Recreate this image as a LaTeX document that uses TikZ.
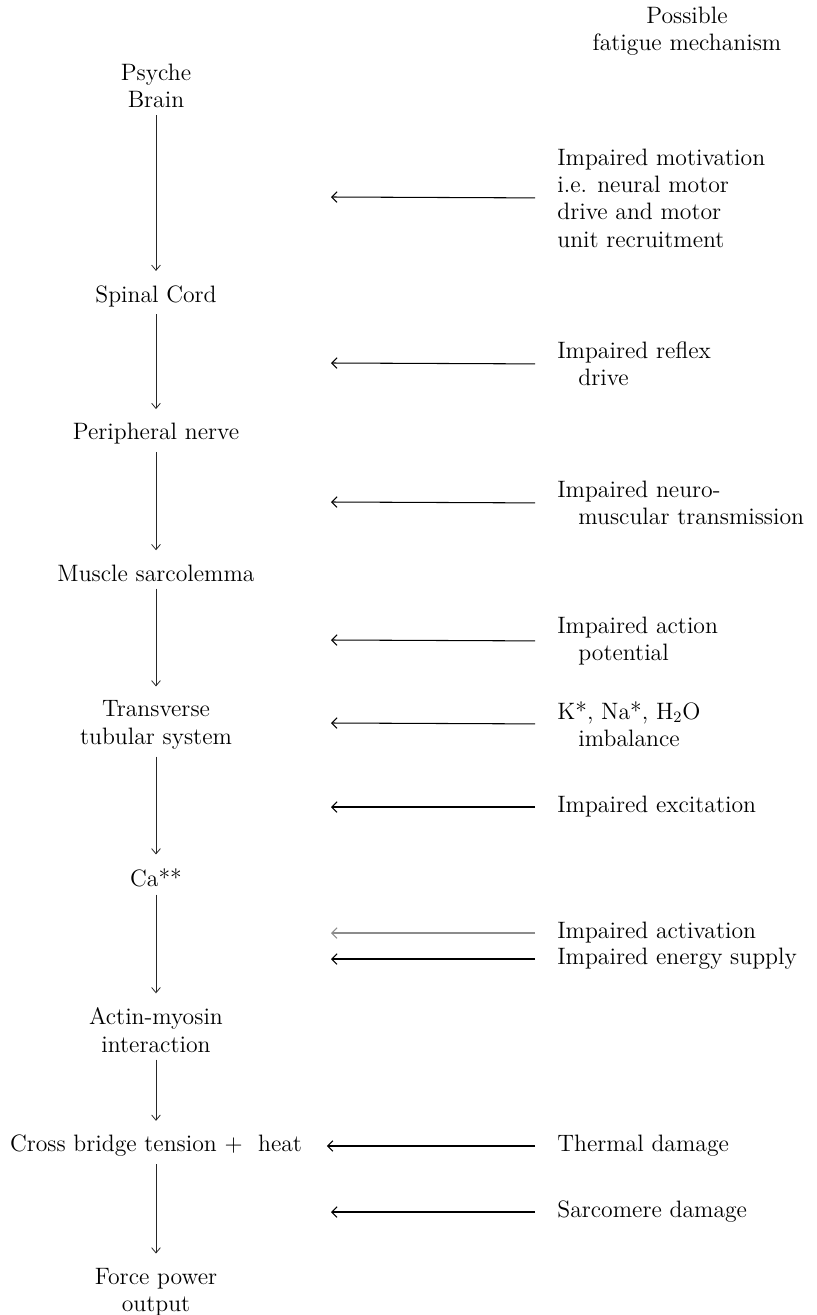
\documentclass[tikz,border=0pt]{standalone}
\usepackage{tikz}
\usetikzlibrary{arrows.meta, positioning}

\begin{document}
\begin{tikzpicture}[
    x=0.02cm, y=-0.02cm,
    stage/.style={text centered, align=center, inner sep=4pt, font=\fontsize{13.5}{15.6}\selectfont},
    cause/.style={anchor=west, align=left, inner sep=0pt, font=\fontsize{13.5}{15.6}\selectfont},
    down/.style={line width=0.45pt, draw=black!85, -{Straight Barb[length=3pt, width=5pt]}, shorten >=4pt},
    arrow/.style={line width=0.6pt, -{Straight Barb[length=3pt, width=6pt]}, shorten <=12.5pt},
]
    \useasboundingbox (0,0) rectangle (816,1315);

    % heading of the right column
    \node (head) [stage] at (687,31) {Possible\\fatigue mechanism};

    % chain of stages
    \node (brain)  [stage] at (156,86)   {Psyche\\Brain};
    \node (spinal) [stage] at (156,296)  {Spinal Cord};
    \node (nerve)  [stage] at (156,434)  {Peripheral nerve};
    \node (sarco)  [stage] at (156,573)  {Muscle sarcolemma};
    \node (tubule) [stage] at (156,725)  {Transverse\\tubular system};
    \node (calcium)[stage] at (156,878)  {Ca**};
    \node (actin)  [stage] at (156,1030) {Actin-myosin\\interaction};
    \node (bridge) [stage, inner xsep=14pt] at (156,1146) {Cross bridge tension + \ heat};
    \node (force)  [stage] at (156,1292) {Force power\\output};

    % mechanisms
    \node (motiv)   [cause] at (557,198)  {Impaired motivation\\i.e. neural motor\\drive and motor\\unit recruitment};
    \node (reflex)  [cause] at (557,364)  {Impaired reflex\\\hspace*{12pt}drive};
    \node (neuro)   [cause] at (557,503)  {Impaired neuro-\\\hspace*{12pt}muscular transmission};
    \node (action)  [cause] at (557,641)  {Impaired action\\\hspace*{12pt}potential};
    \node (ions)    [cause] at (557,724)  {K*, Na*, H$_2$O\\\hspace*{12pt}imbalance};
    \node (excit)   [cause] at (557,807)  {Impaired excitation};
    \node (activ)   [cause] at (557,933)  {Impaired activation};
    \node (energy)  [cause] at (557,959)  {Impaired energy supply};
    \node (thermal) [cause] at (557,1146) {Thermal damage};
    \node (sarcom)  [cause] at (557,1212) {Sarcomere damage};

    \coordinate (t_motiv)  at (331,197);
    \coordinate (t_reflex) at (331,363);
    \coordinate (t_neuro)  at (331,502);
    \coordinate (t_action) at (331,640);
    \coordinate (t_ions)   at (331,723);
    \coordinate (t_excit)  at (331,807);
    \coordinate (t_activ)  at (331,933);
    \coordinate (t_energy) at (331,959);
    \coordinate (t_sarcom) at (331,1212);

    \draw [down] (brain) -- (spinal);
    \draw [down] (spinal) -- (nerve);
    \draw [down] (nerve) -- (sarco);
    \draw [down] (sarco) -- (tubule);
    \draw [down] (tubule) -- (calcium);
    \draw [down] (calcium) -- (actin);
    \draw [down] (actin) -- (bridge);
    \draw [down] (bridge) -- (force);

    \draw [arrow] (motiv.west) -- (t_motiv);
    \draw [arrow] (reflex.west) -- (t_reflex);
    \draw [arrow] (neuro.west) -- (t_neuro);
    \draw [arrow] (action.west) -- (t_action);
    \draw [arrow] (ions.west) -- (t_ions);
    \draw [arrow] (excit.west) -- (t_excit);
    \draw [arrow, draw=black!45] (activ.west) -- (t_activ);
    \draw [arrow] (energy.west) -- (t_energy);
    \draw [arrow] (thermal.west) -- (bridge.east);
    \draw [arrow] (sarcom.west) -- (t_sarcom);

\end{tikzpicture}
\end{document}
